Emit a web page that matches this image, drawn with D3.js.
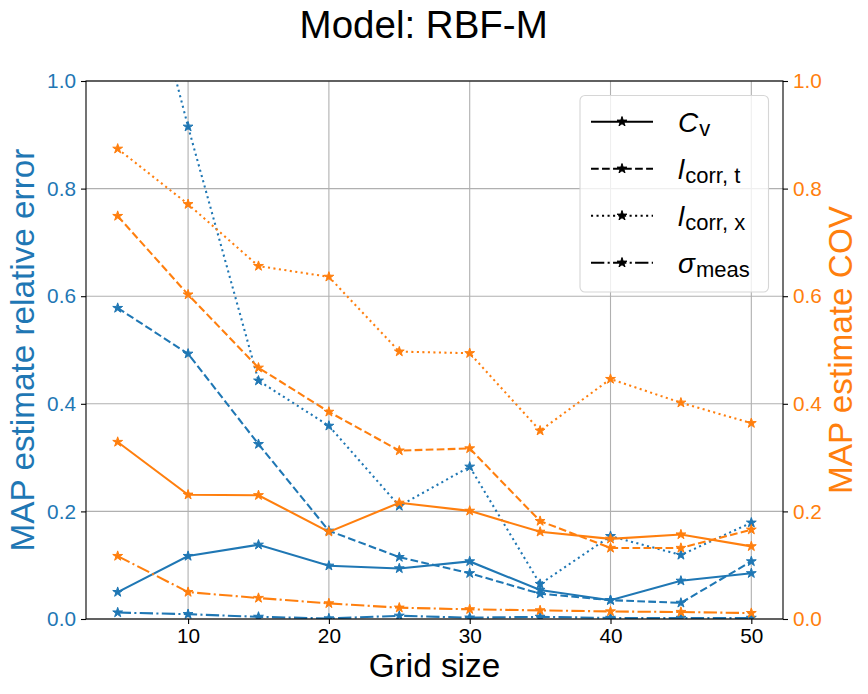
<!DOCTYPE html>
<html>
<head>
<meta charset="utf-8">
<script src="https://cdn.jsdelivr.net/npm/d3@7"></script>
<style>
    body { margin: 0; background: #fff; }
    svg text { font-family: "Liberation Sans", Arial, sans-serif; }
</style>
</head>
<body>
<div class="main-container"></div>
<script>
// grid sizes on the x axis
const gridSizes = [5, 10, 15, 20, 25, 30, 35, 40, 45, 50];

// MAP estimate relative error (left axis, blue)
const errCv    = [0.050, 0.117, 0.138, 0.099, 0.094, 0.107, 0.054, 0.035, 0.071, 0.085];
const errLcorrT = [0.578, 0.493, 0.325, 0.164, 0.115, 0.085, 0.047, 0.035, 0.030, 0.107];
const errLcorrX = [1.42, 0.915, 0.443, 0.359, 0.210, 0.283, 0.065, 0.154, 0.119, 0.179];
const errSigma = [0.012, 0.009, 0.004, 0.001, 0.006, 0.0025, 0.004, 0.002, 0.002, 0.002];

// MAP estimate COV (right axis, orange)
const covCv    = [0.329, 0.231, 0.230, 0.162, 0.216, 0.201, 0.162, 0.149, 0.157, 0.135];
const covLcorrT = [0.749, 0.603, 0.467, 0.385, 0.313, 0.317, 0.182, 0.132, 0.132, 0.166];
const covLcorrX = [0.874, 0.771, 0.656, 0.636, 0.497, 0.494, 0.350, 0.446, 0.402, 0.364];
const covSigma = [0.117, 0.050, 0.039, 0.029, 0.021, 0.018, 0.016, 0.014, 0.013, 0.011];

// tick labels
const xTicks = [10, 20, 30, 40, 50];
const yTicks = [0, 0.2, 0.4, 0.6, 0.8, 1.0];

// legend entries (main letter + subscript)
const legendLabels = [
    {main: 'C', sub: 'v'},
    {main: 'l', sub: 'corr, t'},
    {main: 'l', sub: 'corr, x'},
    {main: 'σ', sub: 'meas'}
];

// layout
const width = 868, height = 694;
const margin = {t: 81, r: 85, b: 75, l: 86};
const blue = '#1f77b4', orange = '#ff7f0e';
const lw = 2.08;
const dashes = ['none', `${3.7*lw},${1.6*lw}`, `${1*lw},${1.65*lw}`, `${6.4*lw},${1.6*lw},${1*lw},${1.6*lw}`];

const svg = d3.select('.main-container').append('svg')
    .attr('width', width)
    .attr('height', height);

const x = d3.scaleLinear().domain([2.75, 52.25]).range([margin.l, width - margin.r]);
const yL = d3.scaleLinear().domain([0, 1]).range([height - margin.b, margin.t]);
const yR = d3.scaleLinear().domain([0, 1]).range([height - margin.b, margin.t]);

svg.append('defs').append('clipPath').attr('id', 'plot-clip')
    .append('rect')
    .attr('x', x.range()[0]).attr('y', yL.range()[1])
    .attr('width', x.range()[1] - x.range()[0])
    .attr('height', yL.range()[0] - yL.range()[1]);

// grid lines
const grid = svg.append('g').attr('stroke', '#b0b0b0').attr('stroke-width', 1.1);
grid.selectAll('.vg').data(xTicks).join('line')
    .attr('x1', d => x(d)).attr('x2', d => x(d))
    .attr('y1', yL.range()[0]).attr('y2', yL.range()[1]);
grid.selectAll('.hg').data(yTicks).join('line')
    .attr('x1', x.range()[0]).attr('x2', x.range()[1])
    .attr('y1', d => yL(d)).attr('y2', d => yL(d));

// series
const series = [
    {vals: errCv, color: blue, y: yL, dash: dashes[0]},
    {vals: errLcorrT, color: blue, y: yL, dash: dashes[1]},
    {vals: errLcorrX, color: blue, y: yL, dash: dashes[2]},
    {vals: errSigma, color: blue, y: yL, dash: dashes[3]},
    {vals: covCv, color: orange, y: yR, dash: dashes[0]},
    {vals: covLcorrT, color: orange, y: yR, dash: dashes[1]},
    {vals: covLcorrX, color: orange, y: yR, dash: dashes[2]},
    {vals: covSigma, color: orange, y: yR, dash: dashes[3]}
];

const star = d3.symbol(d3.symbolStar).size(30);
const plot = svg.append('g').attr('clip-path', 'url(#plot-clip)');

series.forEach(s => {
    const pts = gridSizes.map((g, i) => [g, s.vals[i]]);
    const line = d3.line().x(d => x(d[0])).y(d => s.y(d[1]));
    plot.append('path')
        .attr('d', line(pts))
        .attr('fill', 'none')
        .attr('stroke', s.color)
        .attr('stroke-width', lw)
        .attr('stroke-dasharray', s.dash);
    plot.selectAll(null).data(pts).join('path')
        .attr('d', star)
        .attr('transform', d => `translate(${x(d[0])},${s.y(d[1])})`)
        .attr('fill', s.color)
        .attr('stroke', s.color)
        .attr('stroke-width', 1);
});

// axes
const fmt = d3.format('.1f');
const axB = svg.append('g').attr('transform', `translate(0,${yL.range()[0]})`)
    .call(d3.axisBottom(x).tickValues(xTicks).tickSize(5).tickPadding(4));
const axL = svg.append('g').attr('transform', `translate(${x.range()[0]},0)`)
    .call(d3.axisLeft(yL).tickValues(yTicks).tickFormat(fmt).tickSize(5).tickPadding(5));
const axR = svg.append('g').attr('transform', `translate(${x.range()[1]},0)`)
    .call(d3.axisRight(yR).tickValues(yTicks).tickFormat(fmt).tickSize(5).tickPadding(5));

[axB, axL, axR].forEach(a => {
    a.select('.domain').remove();
    a.attr('font-size', null).attr('font-family', null);
    a.selectAll('.tick line').attr('stroke', '#000').attr('stroke-width', 1.1);
    a.selectAll('.tick text')
        .style('font-size', '20.8px')
        .style('font-family', '"Liberation Sans", Arial, sans-serif');
});
axB.selectAll('.tick text').attr('fill', '#000');
axL.selectAll('.tick text').attr('fill', blue);
axR.selectAll('.tick text').attr('fill', orange);

// spines
svg.append('rect')
    .attr('x', x.range()[0]).attr('y', yL.range()[1])
    .attr('width', x.range()[1] - x.range()[0])
    .attr('height', yL.range()[0] - yL.range()[1])
    .attr('fill', 'none').attr('stroke', '#000').attr('stroke-width', 1.1);

// legend
const lg = svg.append('g');
lg.append('rect')
    .attr('x', 580).attr('y', 95.5).attr('width', 188.5).attr('height', 196.5)
    .attr('rx', 5).attr('fill', 'rgba(255,255,255,0.8)')
    .attr('stroke', '#d6d6d6').attr('stroke-width', 1.1);

legendLabels.forEach((d, i) => {
    const cy = 121.7 + i * 47;
    lg.append('line')
        .attr('x1', 591).attr('x2', 653).attr('y1', cy).attr('y2', cy)
        .attr('stroke', '#000').attr('stroke-width', lw)
        .attr('stroke-dasharray', dashes[i]);
    lg.append('path').attr('d', star)
        .attr('transform', `translate(622,${cy})`)
        .attr('fill', '#000').attr('stroke', '#000').attr('stroke-width', 1);
    const t = lg.append('text').attr('x', 678).attr('y', cy + 10)
        .style('font-size', '28px').attr('fill', '#000');
    t.append('tspan').attr('font-style', 'italic').text(d.main);
    t.append('tspan').style('font-size', '22px').attr('dy', 4.5).attr('dx', 1).text(d.sub);
});

// labels
svg.append('text')
    .attr('x', 423.7).attr('y', 38)
    .attr('text-anchor', 'middle').style('font-size', '38.5px').attr('fill', '#000')
    .text('Model: RBF-M');

svg.append('text')
    .attr('x', (x.range()[0] + x.range()[1]) / 2).attr('y', 677)
    .attr('text-anchor', 'middle').style('font-size', '33.3px').attr('fill', '#000')
    .text('Grid size');

svg.append('text')
    .attr('transform', `translate(33.5,350) rotate(-90)`)
    .attr('text-anchor', 'middle').style('font-size', '33.3px').attr('fill', blue)
    .text('MAP estimate relative error');

svg.append('text')
    .attr('transform', `translate(851.5,350) rotate(-90)`)
    .attr('text-anchor', 'middle').style('font-size', '33.3px').attr('fill', orange)
    .text('MAP estimate COV');
</script>
</body>
</html>
